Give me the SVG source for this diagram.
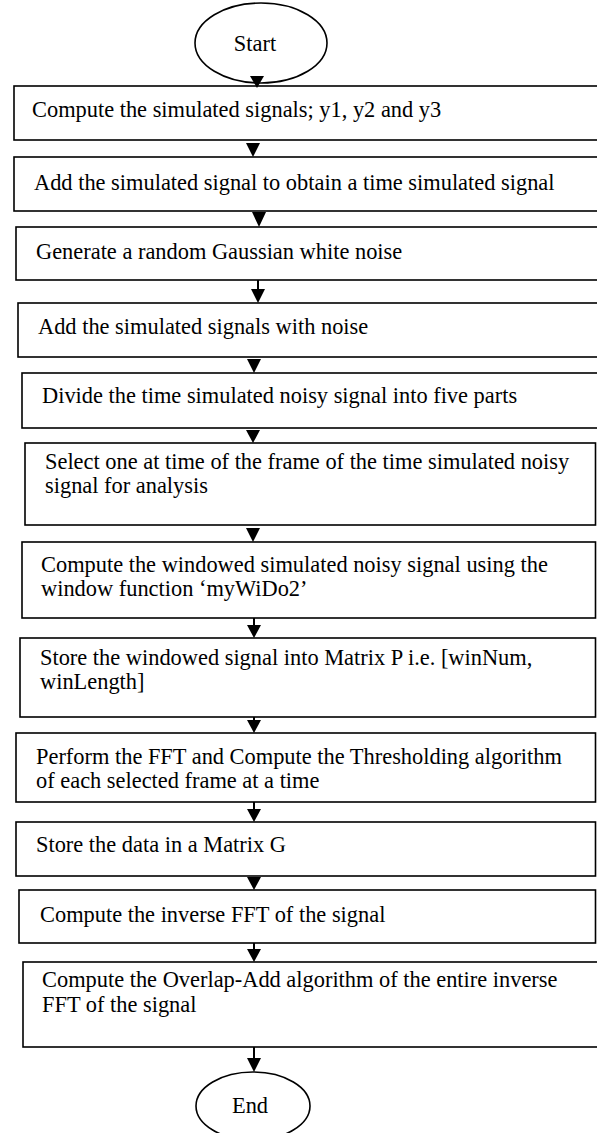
<svg xmlns="http://www.w3.org/2000/svg" width="597" height="1133" viewBox="0 0 597 1133">
<style>
.b{fill:#fff;stroke:#000;stroke-width:1.6}
.e{fill:#fff;stroke:#000;stroke-width:1.6}
.t{font-family:"Liberation Serif","Times New Roman",serif;font-size:22.4px;fill:#000}
.c{stroke:#000;stroke-width:2;fill:none}
.h{fill:#000;stroke:none}
</style>
<rect width="597" height="1133" fill="#fff"/>
<g id="start"><ellipse class="e" cx="261" cy="43" rx="66" ry="40"/><text class="t" x="255" y="51" text-anchor="middle">Start</text></g>
<g id="n1"><rect class="b" x="14" y="86" width="590" height="54"/><text class="t" x="32" y="117">Compute the simulated signals; y1, y2 and y3</text></g>
<g id="n2"><rect class="b" x="14" y="157" width="590" height="54"/><text class="t" x="34" y="190">Add the simulated signal to obtain a time simulated signal</text></g>
<g id="n3"><rect class="b" x="16" y="227" width="590" height="53"/><text class="t" x="36" y="259">Generate a random Gaussian white noise</text></g>
<g id="n4"><rect class="b" x="18" y="303" width="590" height="54"/><text class="t" x="38" y="334">Add the simulated signals with noise</text></g>
<g id="n5"><rect class="b" x="22" y="373" width="590" height="55"/><text class="t" x="42" y="403">Divide the time simulated noisy signal into five parts</text></g>
<g id="n6"><rect class="b" x="25" y="443" width="570.5" height="82"/><text class="t" x="45" y="469">Select one at time of the frame of the time simulated noisy</text><text class="t" x="45" y="493">signal for analysis</text></g>
<g id="n7"><rect class="b" x="22" y="542" width="573.5" height="76"/><text class="t" x="41" y="572">Compute the windowed simulated noisy signal using the</text><text class="t" x="41" y="596">window function ‘myWiDo2’</text></g>
<g id="n8"><rect class="b" x="20" y="638" width="575.5" height="79"/><text class="t" x="40" y="665">Store the windowed signal into Matrix P i.e. [winNum,</text><text class="t" x="40" y="689">winLength]</text></g>
<g id="n9"><rect class="b" x="16" y="733" width="579.5" height="69"/><text class="t" x="36" y="764">Perform the FFT and Compute the Thresholding algorithm</text><text class="t" x="36" y="788">of each selected frame at a time</text></g>
<g id="n10"><rect class="b" x="16" y="822" width="579.5" height="54"/><text class="t" x="36" y="852">Store the data in a Matrix G</text></g>
<g id="n11"><rect class="b" x="19" y="890" width="576.5" height="53"/><text class="t" x="40" y="922">Compute the inverse FFT of the signal</text></g>
<g id="n12"><rect class="b" x="23" y="962" width="590" height="85"/><text class="t" x="42" y="987">Compute the Overlap-Add algorithm of the entire inverse</text><text class="t" x="42" y="1012">FFT of the signal</text></g>
<g id="end"><ellipse class="e" cx="253" cy="1106" rx="57" ry="34"/><text class="t" x="250" y="1113" text-anchor="middle">End</text></g>
<g id="connectors">
<polygon class="h" points="250,76 264,76 257,88"/>
<polygon class="h" points="246,143 260,143 253,157"/>
<polygon class="h" points="252,212 266,212 259,227"/>
<line class="c" x1="258" y1="280" x2="258" y2="292"/><polygon class="h" points="251,289 265,289 258,303"/>
<polygon class="h" points="247,359 261,359 254,373"/>
<polygon class="h" points="246,430 260,430 253,443"/>
<polygon class="h" points="246,528 260,528 253,542"/>
<line class="c" x1="254" y1="618" x2="254" y2="628"/><polygon class="h" points="247,625 261,625 254,638"/>
<line class="c" x1="254" y1="717" x2="254" y2="722"/><polygon class="h" points="247,720 261,720 254,733"/>
<line class="c" x1="254" y1="802" x2="254" y2="812"/><polygon class="h" points="247,809 261,809 254,822"/>
<polygon class="h" points="247,877 261,877 254,890"/>
<line class="c" x1="254" y1="943" x2="254" y2="952"/><polygon class="h" points="247,949 261,949 254,962"/>
<line class="c" x1="254" y1="1047" x2="254" y2="1061"/><polygon class="h" points="247,1058 261,1058 254,1072"/>
</g>
</svg>
